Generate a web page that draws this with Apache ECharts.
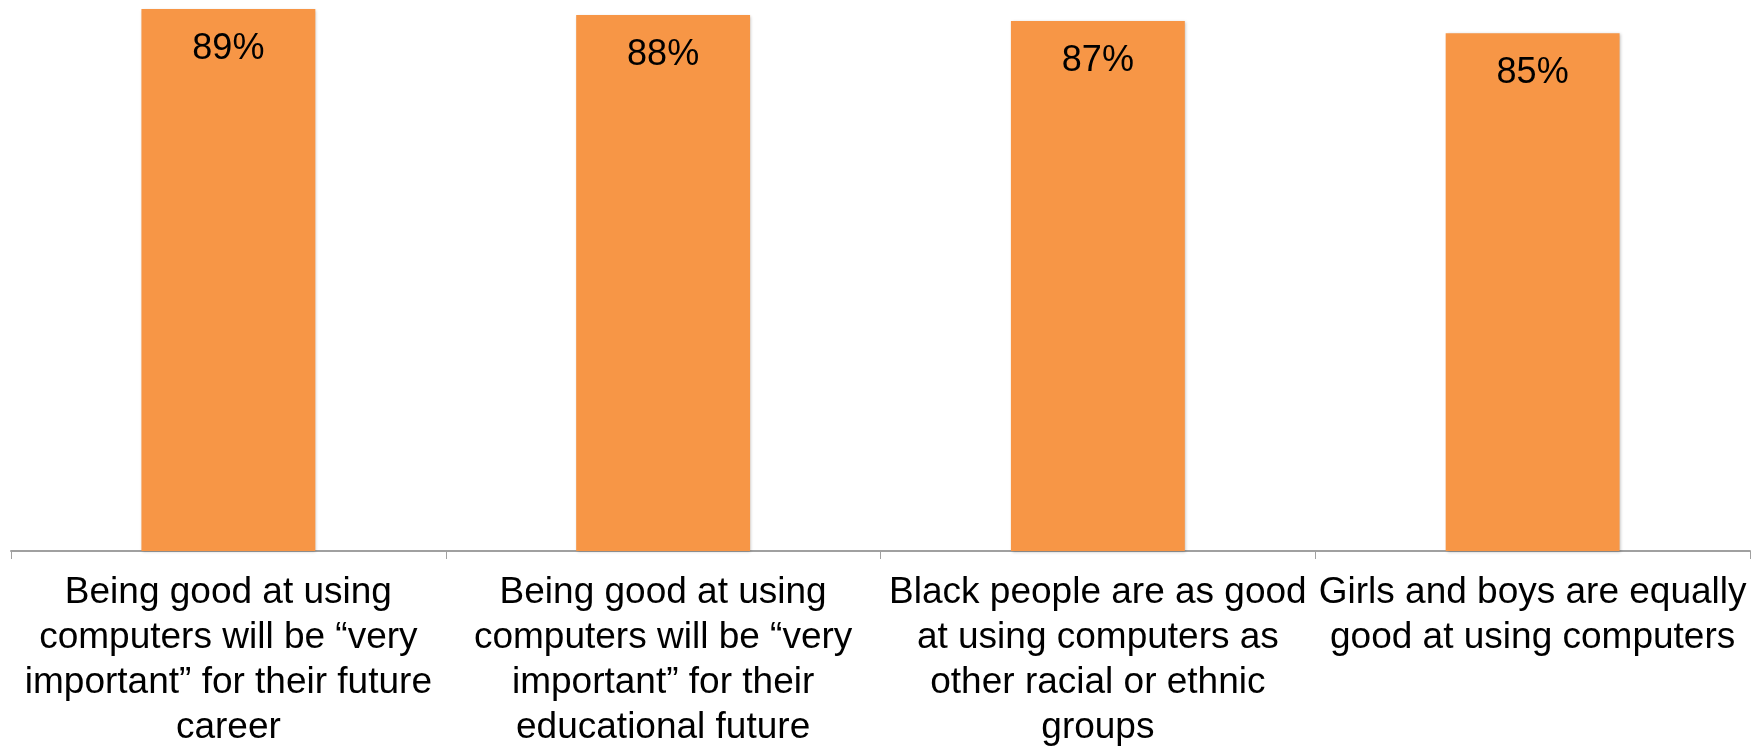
<!DOCTYPE html>
<html>
<head>
<meta charset="utf-8">
<script src="https://cdn.jsdelivr.net/npm/echarts@6/dist/echarts.min.js"></script>
<style>
html,body{margin:0;padding:0;background:#fff;}
#chart{width:1763px;height:750px;}
</style>
</head>
<body>
<div id="chart"></div>
<script>
const categories = [
  'Being good at using\ncomputers will be \u201cvery\nimportant\u201d for their future\ncareer',
  'Being good at using\ncomputers will be \u201cvery\nimportant\u201d for their\neducational future',
  'Black people are as good\nat using computers as\nother racial or ethnic\ngroups',
  'Girls and boys are equally\ngood at using computers'
];
const values = [89, 88, 87, 85];

const chart = echarts.init(document.getElementById('chart'));
chart.setOption({
  animation: false,
  grid: { left: 11, right: 13, top: 0, bottom: 196, containLabel: false },
  xAxis: {
    type: 'category',
    data: categories,
    axisLine: { show: true, lineStyle: { color: '#a0a0a0', width: 2 } },
    axisTick: { show: true, alignWithLabel: false, length: 8, lineStyle: { color: '#a0a0a0', width: 1 } },
    axisLabel: {
      interval: 0,
      color: '#000',
      fontFamily: 'Liberation Sans, Arial, Helvetica, sans-serif',
      fontSize: 37,
      lineHeight: 45,
      margin: 19,
      align: 'center'
    }
  },
  yAxis: {
    type: 'value',
    min: 0,
    max: 90.46,
    show: false,
    splitLine: { show: false }
  },
  series: [{
    type: 'bar',
    data: values,
    barWidth: '40%',
    itemStyle: {
      color: '#F79646',
      shadowColor: 'rgba(0,0,0,0.25)',
      shadowBlur: 3,
      shadowOffsetX: 1,
      shadowOffsetY: 1
    },
    label: {
      show: true,
      position: 'insideTop',
      distance: 22,
      formatter: '{c}%',
      color: '#000',
      fontFamily: 'Liberation Sans, Arial, Helvetica, sans-serif',
      fontSize: 36
    }
  }]
});
</script>
</body>
</html>
